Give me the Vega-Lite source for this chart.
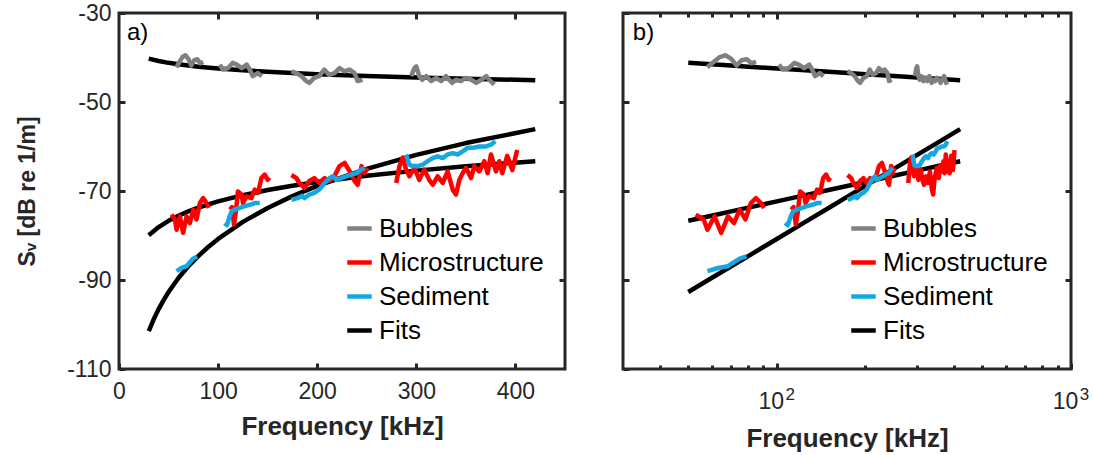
{
  "$schema": "https://vega.github.io/schema/vega-lite/v6.json",
  "background": "white",
  "padding": {"left": 15, "top": 0, "right": 5, "bottom": 5},
  "config": {
    "font": "Liberation Sans",
    "view": {"stroke": "#262626", "strokeWidth": 3},
    "axis": {
      "domain": false, "grid": false,
      "labelFont": "Liberation Sans", "labelFontSize": 23, "labelColor": "#262626",
      "tickColor": "#262626", "tickWidth": 3, "tickSize": -6,
      "titleFont": "Liberation Sans", "titleFontSize": 26, "titleFontWeight": "bold", "titleColor": "#262626",
      "labelFlush": false, "labelOverlap": false
    },
    "legend": {
      "orient": "none", "legendX": 226, "legendY": 201,
      "symbolType": "stroke", "symbolSize": 600, "symbolStrokeWidth": 4.5,
      "labelFont": "Liberation Sans", "labelFontSize": 26, "labelColor": "#000000",
      "labelOffset": 5, "rowPadding": 6, "labelLimit": 400, "title": null
    }
  },
  "datasets": {
    "fits": [
      {"fit": "bub", "series": "Fits", "f": 30, "sv": -40.26},
      {"fit": "bub", "series": "Fits", "f": 40, "sv": -40.79},
      {"fit": "bub", "series": "Fits", "f": 50, "sv": -41.2},
      {"fit": "bub", "series": "Fits", "f": 60, "sv": -41.53},
      {"fit": "bub", "series": "Fits", "f": 70, "sv": -41.82},
      {"fit": "bub", "series": "Fits", "f": 80, "sv": -42.06},
      {"fit": "bub", "series": "Fits", "f": 100, "sv": -42.47},
      {"fit": "bub", "series": "Fits", "f": 125, "sv": -42.88},
      {"fit": "bub", "series": "Fits", "f": 150, "sv": -43.21},
      {"fit": "bub", "series": "Fits", "f": 175, "sv": -43.5},
      {"fit": "bub", "series": "Fits", "f": 200, "sv": -43.74},
      {"fit": "bub", "series": "Fits", "f": 250, "sv": -44.15},
      {"fit": "bub", "series": "Fits", "f": 300, "sv": -44.48},
      {"fit": "bub", "series": "Fits", "f": 350, "sv": -44.77},
      {"fit": "bub", "series": "Fits", "f": 420, "sv": -45.1},
      {"fit": "mic", "series": "Fits", "f": 30, "sv": -79.92},
      {"fit": "mic", "series": "Fits", "f": 40, "sv": -78.11},
      {"fit": "mic", "series": "Fits", "f": 50, "sv": -76.7},
      {"fit": "mic", "series": "Fits", "f": 60, "sv": -75.55},
      {"fit": "mic", "series": "Fits", "f": 70, "sv": -74.58},
      {"fit": "mic", "series": "Fits", "f": 80, "sv": -73.74},
      {"fit": "mic", "series": "Fits", "f": 100, "sv": -72.34},
      {"fit": "mic", "series": "Fits", "f": 125, "sv": -70.93},
      {"fit": "mic", "series": "Fits", "f": 150, "sv": -69.78},
      {"fit": "mic", "series": "Fits", "f": 175, "sv": -68.81},
      {"fit": "mic", "series": "Fits", "f": 200, "sv": -67.97},
      {"fit": "mic", "series": "Fits", "f": 250, "sv": -66.56},
      {"fit": "mic", "series": "Fits", "f": 300, "sv": -65.42},
      {"fit": "mic", "series": "Fits", "f": 350, "sv": -64.45},
      {"fit": "mic", "series": "Fits", "f": 420, "sv": -63.3},
      {"fit": "sed", "series": "Fits", "f": 30, "sv": -101.48},
      {"fit": "sed", "series": "Fits", "f": 35, "sv": -98.83},
      {"fit": "sed", "series": "Fits", "f": 40, "sv": -96.54},
      {"fit": "sed", "series": "Fits", "f": 45, "sv": -94.51},
      {"fit": "sed", "series": "Fits", "f": 50, "sv": -92.7},
      {"fit": "sed", "series": "Fits", "f": 60, "sv": -89.56},
      {"fit": "sed", "series": "Fits", "f": 70, "sv": -86.91},
      {"fit": "sed", "series": "Fits", "f": 80, "sv": -84.62},
      {"fit": "sed", "series": "Fits", "f": 90, "sv": -82.59},
      {"fit": "sed", "series": "Fits", "f": 100, "sv": -80.78},
      {"fit": "sed", "series": "Fits", "f": 125, "sv": -76.94},
      {"fit": "sed", "series": "Fits", "f": 150, "sv": -73.81},
      {"fit": "sed", "series": "Fits", "f": 175, "sv": -71.15},
      {"fit": "sed", "series": "Fits", "f": 200, "sv": -68.86},
      {"fit": "sed", "series": "Fits", "f": 250, "sv": -65.02},
      {"fit": "sed", "series": "Fits", "f": 300, "sv": -61.88},
      {"fit": "sed", "series": "Fits", "f": 350, "sv": -59.23},
      {"fit": "sed", "series": "Fits", "f": 420, "sv": -56.1}
    ],
    "obs": [
      {"series": "Bubbles", "seg": "b1", "f": 58, "sv": -42.2},
      {"series": "Bubbles", "seg": "b1", "f": 61, "sv": -41.0},
      {"series": "Bubbles", "seg": "b1", "f": 64, "sv": -39.9},
      {"series": "Bubbles", "seg": "b1", "f": 67, "sv": -39.5},
      {"series": "Bubbles", "seg": "b1", "f": 70, "sv": -40.3},
      {"series": "Bubbles", "seg": "b1", "f": 73, "sv": -41.8},
      {"series": "Bubbles", "seg": "b1", "f": 76, "sv": -40.6},
      {"series": "Bubbles", "seg": "b1", "f": 79, "sv": -40.4},
      {"series": "Bubbles", "seg": "b1", "f": 82, "sv": -41.3},
      {"series": "Bubbles", "seg": "b1", "f": 85, "sv": -41.0},
      {"series": "Bubbles", "seg": "b2", "f": 101.7, "sv": -41.6},
      {"series": "Bubbles", "seg": "b2", "f": 104.7, "sv": -42.7},
      {"series": "Bubbles", "seg": "b2", "f": 109.8, "sv": -42.4},
      {"series": "Bubbles", "seg": "b2", "f": 114.8, "sv": -41.2},
      {"series": "Bubbles", "seg": "b2", "f": 118.8, "sv": -41.6},
      {"series": "Bubbles", "seg": "b2", "f": 123.9, "sv": -42.4},
      {"series": "Bubbles", "seg": "b2", "f": 128.9, "sv": -41.6},
      {"series": "Bubbles", "seg": "b2", "f": 131.9, "sv": -42.7},
      {"series": "Bubbles", "seg": "b2", "f": 134.9, "sv": -44.2},
      {"series": "Bubbles", "seg": "b2", "f": 140, "sv": -43.5},
      {"series": "Bubbles", "seg": "b2", "f": 144, "sv": -44.2},
      {"series": "Bubbles", "seg": "b3", "f": 174, "sv": -43.1},
      {"series": "Bubbles", "seg": "b3", "f": 179, "sv": -43.5},
      {"series": "Bubbles", "seg": "b3", "f": 184, "sv": -44.2},
      {"series": "Bubbles", "seg": "b3", "f": 189, "sv": -45.3},
      {"series": "Bubbles", "seg": "b3", "f": 192, "sv": -45.7},
      {"series": "Bubbles", "seg": "b3", "f": 197, "sv": -44.6},
      {"series": "Bubbles", "seg": "b3", "f": 202, "sv": -44.2},
      {"series": "Bubbles", "seg": "b3", "f": 207, "sv": -42.7},
      {"series": "Bubbles", "seg": "b3", "f": 212, "sv": -43.9},
      {"series": "Bubbles", "seg": "b3", "f": 217.5, "sv": -43.5},
      {"series": "Bubbles", "seg": "b3", "f": 222.5, "sv": -42.4},
      {"series": "Bubbles", "seg": "b3", "f": 227.6, "sv": -43.1},
      {"series": "Bubbles", "seg": "b3", "f": 232.6, "sv": -42.7},
      {"series": "Bubbles", "seg": "b3", "f": 237.7, "sv": -43.5},
      {"series": "Bubbles", "seg": "b3", "f": 240.7, "sv": -45.3},
      {"series": "Bubbles", "seg": "b3", "f": 245.7, "sv": -45.0},
      {"series": "Bubbles", "seg": "b4", "f": 294.8, "sv": -44.2},
      {"series": "Bubbles", "seg": "b4", "f": 298, "sv": -42.4},
      {"series": "Bubbles", "seg": "b4", "f": 300, "sv": -42.0},
      {"series": "Bubbles", "seg": "b4", "f": 303, "sv": -44.2},
      {"series": "Bubbles", "seg": "b4", "f": 306, "sv": -45.0},
      {"series": "Bubbles", "seg": "b4", "f": 310, "sv": -44.2},
      {"series": "Bubbles", "seg": "b4", "f": 315, "sv": -45.3},
      {"series": "Bubbles", "seg": "b4", "f": 320, "sv": -44.6},
      {"series": "Bubbles", "seg": "b4", "f": 325, "sv": -45.3},
      {"series": "Bubbles", "seg": "b4", "f": 330, "sv": -44.2},
      {"series": "Bubbles", "seg": "b4", "f": 336, "sv": -45.7},
      {"series": "Bubbles", "seg": "b4", "f": 340, "sv": -45.0},
      {"series": "Bubbles", "seg": "b4", "f": 345, "sv": -45.3},
      {"series": "Bubbles", "seg": "b4", "f": 350, "sv": -44.6},
      {"series": "Bubbles", "seg": "b4", "f": 355.5, "sv": -45.0},
      {"series": "Bubbles", "seg": "b4", "f": 360.5, "sv": -45.7},
      {"series": "Bubbles", "seg": "b4", "f": 365.5, "sv": -45.0},
      {"series": "Bubbles", "seg": "b4", "f": 370.6, "sv": -44.2},
      {"series": "Bubbles", "seg": "b4", "f": 373.6, "sv": -45.0},
      {"series": "Bubbles", "seg": "b4", "f": 378.6, "sv": -46.1},
      {"series": "Microstructure", "seg": "m1", "f": 53, "sv": -75.3},
      {"series": "Microstructure", "seg": "m1", "f": 56.4, "sv": -76.4},
      {"series": "Microstructure", "seg": "m1", "f": 58.1, "sv": -78.7},
      {"series": "Microstructure", "seg": "m1", "f": 61.4, "sv": -75.7},
      {"series": "Microstructure", "seg": "m1", "f": 64.7, "sv": -79.4},
      {"series": "Microstructure", "seg": "m1", "f": 68.2, "sv": -75.7},
      {"series": "Microstructure", "seg": "m1", "f": 71.5, "sv": -77.2},
      {"series": "Microstructure", "seg": "m1", "f": 74.8, "sv": -74.2},
      {"series": "Microstructure", "seg": "m1", "f": 78.2, "sv": -76.4},
      {"series": "Microstructure", "seg": "m1", "f": 81.6, "sv": -72.7},
      {"series": "Microstructure", "seg": "m1", "f": 84.9, "sv": -71.6},
      {"series": "Microstructure", "seg": "m1", "f": 88.3, "sv": -72.7},
      {"series": "Microstructure", "seg": "m1", "f": 90.6, "sv": -73.8},
      {"series": "Microstructure", "seg": "m2", "f": 112, "sv": -74.2},
      {"series": "Microstructure", "seg": "m2", "f": 114, "sv": -73.6},
      {"series": "Microstructure", "seg": "m2", "f": 116, "sv": -77.5},
      {"series": "Microstructure", "seg": "m2", "f": 118, "sv": -74.5},
      {"series": "Microstructure", "seg": "m2", "f": 120, "sv": -70.1},
      {"series": "Microstructure", "seg": "m2", "f": 123.6, "sv": -70.8},
      {"series": "Microstructure", "seg": "m2", "f": 125.2, "sv": -72.7},
      {"series": "Microstructure", "seg": "m2", "f": 128.6, "sv": -71.2},
      {"series": "Microstructure", "seg": "m2", "f": 133.6, "sv": -71.6},
      {"series": "Microstructure", "seg": "m2", "f": 136.9, "sv": -69.7},
      {"series": "Microstructure", "seg": "m2", "f": 140.3, "sv": -70.4},
      {"series": "Microstructure", "seg": "m2", "f": 143.7, "sv": -67.1},
      {"series": "Microstructure", "seg": "m2", "f": 147, "sv": -66.3},
      {"series": "Microstructure", "seg": "m2", "f": 150, "sv": -67.5},
      {"series": "Microstructure", "seg": "m2", "f": 152, "sv": -67.0},
      {"series": "Microstructure", "seg": "m3", "f": 174, "sv": -66.4},
      {"series": "Microstructure", "seg": "m3", "f": 179, "sv": -67.1},
      {"series": "Microstructure", "seg": "m3", "f": 182, "sv": -68.2},
      {"series": "Microstructure", "seg": "m3", "f": 187, "sv": -69.3},
      {"series": "Microstructure", "seg": "m3", "f": 192, "sv": -67.75},
      {"series": "Microstructure", "seg": "m3", "f": 197, "sv": -67.1},
      {"series": "Microstructure", "seg": "m3", "f": 202, "sv": -68.2},
      {"series": "Microstructure", "seg": "m3", "f": 207.5, "sv": -67.1},
      {"series": "Microstructure", "seg": "m3", "f": 212.5, "sv": -67.75},
      {"series": "Microstructure", "seg": "m3", "f": 217.5, "sv": -66.6},
      {"series": "Microstructure", "seg": "m3", "f": 222.5, "sv": -64.4},
      {"series": "Microstructure", "seg": "m3", "f": 227.6, "sv": -63.7},
      {"series": "Microstructure", "seg": "m3", "f": 232.6, "sv": -65.5},
      {"series": "Microstructure", "seg": "m3", "f": 237.7, "sv": -67.75},
      {"series": "Microstructure", "seg": "m3", "f": 240.7, "sv": -68.65},
      {"series": "Microstructure", "seg": "m3", "f": 244.7, "sv": -64.4},
      {"series": "Microstructure", "seg": "m3", "f": 247.7, "sv": -66.0},
      {"series": "Microstructure", "seg": "m3", "f": 250.8, "sv": -64.8},
      {"series": "Microstructure", "seg": "m4", "f": 279.7, "sv": -68.2},
      {"series": "Microstructure", "seg": "m4", "f": 283, "sv": -64.4},
      {"series": "Microstructure", "seg": "m4", "f": 286.3, "sv": -62.5},
      {"series": "Microstructure", "seg": "m4", "f": 289.7, "sv": -65.2},
      {"series": "Microstructure", "seg": "m4", "f": 293, "sv": -66.7},
      {"series": "Microstructure", "seg": "m4", "f": 298, "sv": -64.8},
      {"series": "Microstructure", "seg": "m4", "f": 303, "sv": -67.5},
      {"series": "Microstructure", "seg": "m4", "f": 308, "sv": -65.2},
      {"series": "Microstructure", "seg": "m4", "f": 313, "sv": -67.5},
      {"series": "Microstructure", "seg": "m4", "f": 316.5, "sv": -68.6},
      {"series": "Microstructure", "seg": "m4", "f": 321.5, "sv": -66.7},
      {"series": "Microstructure", "seg": "m4", "f": 326.6, "sv": -68.2},
      {"series": "Microstructure", "seg": "m4", "f": 331.6, "sv": -65.6},
      {"series": "Microstructure", "seg": "m4", "f": 336.7, "sv": -69.7},
      {"series": "Microstructure", "seg": "m4", "f": 340, "sv": -70.8},
      {"series": "Microstructure", "seg": "m4", "f": 343.4, "sv": -67.5},
      {"series": "Microstructure", "seg": "m4", "f": 346.7, "sv": -66.0},
      {"series": "Microstructure", "seg": "m4", "f": 350.1, "sv": -64.8},
      {"series": "Microstructure", "seg": "m4", "f": 355.2, "sv": -67.1},
      {"series": "Microstructure", "seg": "m4", "f": 358.5, "sv": -64.4},
      {"series": "Microstructure", "seg": "m4", "f": 363.5, "sv": -65.6},
      {"series": "Microstructure", "seg": "m4", "f": 368.6, "sv": -63.3},
      {"series": "Microstructure", "seg": "m4", "f": 371.9, "sv": -66.0},
      {"series": "Microstructure", "seg": "m4", "f": 375.3, "sv": -61.8},
      {"series": "Microstructure", "seg": "m4", "f": 380.4, "sv": -65.6},
      {"series": "Microstructure", "seg": "m4", "f": 383.7, "sv": -63.3},
      {"series": "Microstructure", "seg": "m4", "f": 386.7, "sv": -66.0},
      {"series": "Microstructure", "seg": "m4", "f": 391.7, "sv": -62.1},
      {"series": "Microstructure", "seg": "m4", "f": 396.8, "sv": -65.3},
      {"series": "Microstructure", "seg": "m4", "f": 401.8, "sv": -60.8},
      {"series": "Sediment", "seg": "s1", "f": 58.1, "sv": -88.0},
      {"series": "Sediment", "seg": "s1", "f": 63.1, "sv": -87.3},
      {"series": "Sediment", "seg": "s1", "f": 68.2, "sv": -86.9},
      {"series": "Sediment", "seg": "s1", "f": 71.5, "sv": -86.0},
      {"series": "Sediment", "seg": "s1", "f": 74.8, "sv": -85.2},
      {"series": "Sediment", "seg": "s1", "f": 78.9, "sv": -84.7},
      {"series": "Sediment", "seg": "s2", "f": 106.7, "sv": -77.2},
      {"series": "Sediment", "seg": "s2", "f": 109, "sv": -77.7},
      {"series": "Sediment", "seg": "s2", "f": 111, "sv": -76.1},
      {"series": "Sediment", "seg": "s2", "f": 113.5, "sv": -74.6},
      {"series": "Sediment", "seg": "s2", "f": 116.8, "sv": -74.2},
      {"series": "Sediment", "seg": "s2", "f": 121.9, "sv": -73.8},
      {"series": "Sediment", "seg": "s2", "f": 126.9, "sv": -73.4},
      {"series": "Sediment", "seg": "s2", "f": 131.9, "sv": -73.1},
      {"series": "Sediment", "seg": "s2", "f": 137, "sv": -72.7},
      {"series": "Sediment", "seg": "s2", "f": 142, "sv": -72.7},
      {"series": "Sediment", "seg": "s3", "f": 174, "sv": -72.0},
      {"series": "Sediment", "seg": "s3", "f": 180, "sv": -71.6},
      {"series": "Sediment", "seg": "s3", "f": 185, "sv": -71.1},
      {"series": "Sediment", "seg": "s3", "f": 187, "sv": -71.6},
      {"series": "Sediment", "seg": "s3", "f": 192, "sv": -70.8},
      {"series": "Sediment", "seg": "s3", "f": 197, "sv": -70.4},
      {"series": "Sediment", "seg": "s3", "f": 202, "sv": -69.7},
      {"series": "Sediment", "seg": "s3", "f": 207.5, "sv": -68.2},
      {"series": "Sediment", "seg": "s3", "f": 212.5, "sv": -67.1},
      {"series": "Sediment", "seg": "s3", "f": 215.8, "sv": -66.7},
      {"series": "Sediment", "seg": "s3", "f": 219.2, "sv": -67.5},
      {"series": "Sediment", "seg": "s3", "f": 224.3, "sv": -67.1},
      {"series": "Sediment", "seg": "s3", "f": 229.3, "sv": -66.7},
      {"series": "Sediment", "seg": "s3", "f": 234.3, "sv": -66.3},
      {"series": "Sediment", "seg": "s3", "f": 239.4, "sv": -66.0},
      {"series": "Sediment", "seg": "s3", "f": 244.4, "sv": -65.2},
      {"series": "Sediment", "seg": "s3", "f": 247.7, "sv": -64.8},
      {"series": "Sediment", "seg": "s4", "f": 289.7, "sv": -61.8},
      {"series": "Sediment", "seg": "s4", "f": 293, "sv": -64.1},
      {"series": "Sediment", "seg": "s4", "f": 296.3, "sv": -64.4},
      {"series": "Sediment", "seg": "s4", "f": 301.4, "sv": -64.4},
      {"series": "Sediment", "seg": "s4", "f": 306.4, "sv": -64.1},
      {"series": "Sediment", "seg": "s4", "f": 311.5, "sv": -63.3},
      {"series": "Sediment", "seg": "s4", "f": 316.5, "sv": -62.6},
      {"series": "Sediment", "seg": "s4", "f": 321.5, "sv": -62.2},
      {"series": "Sediment", "seg": "s4", "f": 326.6, "sv": -62.6},
      {"series": "Sediment", "seg": "s4", "f": 331.6, "sv": -61.8},
      {"series": "Sediment", "seg": "s4", "f": 336.7, "sv": -61.5},
      {"series": "Sediment", "seg": "s4", "f": 341.7, "sv": -61.8},
      {"series": "Sediment", "seg": "s4", "f": 346.7, "sv": -61.1},
      {"series": "Sediment", "seg": "s4", "f": 351.8, "sv": -60.3},
      {"series": "Sediment", "seg": "s4", "f": 356.8, "sv": -60.3},
      {"series": "Sediment", "seg": "s4", "f": 363.5, "sv": -60.0},
      {"series": "Sediment", "seg": "s4", "f": 370.3, "sv": -60.0},
      {"series": "Sediment", "seg": "s4", "f": 375.3, "sv": -59.6},
      {"series": "Sediment", "seg": "s4", "f": 379.7, "sv": -58.8}
    ]
  },
  "spacing": 52,
  "resolve": {"scale": {"color": "independent"}, "legend": {"color": "independent"}},
  "hconcat": [
    {
      "width": 446, "height": 356,
      "resolve": {"axis": {"x": "independent", "y": "independent"}},
      "layer": [
        {
          "data": {"name": "fits"},
          "mark": {"type": "line", "strokeWidth": 4.5, "strokeJoin": "round"},
          "encoding": {
            "x": {"field": "f", "type": "quantitative", "scale": {"domain": [0, 450], "nice": false},
                  "axis": {"values": [0, 100, 200, 300, 400], "title": "Frequency [kHz]", "labelPadding": 17, "titlePadding": 10}},
            "y": {"field": "sv", "type": "quantitative", "scale": {"domain": [-110, -30], "nice": false},
                  "axis": {"values": [-110, -90, -70, -50, -30], "labelExpr": "replace(datum.label, '−', '-')", "title": "Sᵥ [dB re 1/m]", "labelPadding": 14, "titlePadding": 27, "titleFontSize": 23}},
            "color": {"field": "series", "type": "nominal",
                      "scale": {"domain": ["Bubbles", "Microstructure", "Sediment", "Fits"], "range": ["#808080", "#FF0000", "#14A8E2", "#000000"]}},
            "detail": {"field": "fit"}
          }
        },
        {
          "data": {"name": "obs"},
          "mark": {"type": "line", "strokeWidth": 4.5, "strokeJoin": "round"},
          "encoding": {
            "x": {"field": "f", "type": "quantitative", "scale": {"domain": [0, 450], "nice": false},
                  "axis": {"orient": "top", "values": [100, 200, 300, 400], "labels": false, "title": null}},
            "y": {"field": "sv", "type": "quantitative", "scale": {"domain": [-110, -30], "nice": false},
                  "axis": {"orient": "right", "values": [-90, -70, -50], "labels": false, "title": null}},
            "color": {"field": "series", "type": "nominal",
                      "scale": {"domain": ["Bubbles", "Microstructure", "Sediment", "Fits"], "range": ["#808080", "#FF0000", "#14A8E2", "#000000"]}},
            "detail": {"field": "seg"}
          }
        },
        {
          "data": {"values": [{"lab": "a)", "f": 8, "sv": -34.5}]},
          "mark": {"type": "text", "align": "left", "baseline": "middle", "fontSize": 24, "font": "Liberation Sans", "color": "#000000"},
          "encoding": {
            "x": {"field": "f", "type": "quantitative", "axis": null},
            "y": {"field": "sv", "type": "quantitative", "axis": null},
            "text": {"field": "lab"}
          }
        }
      ]
    },
    {
      "width": 448, "height": 356,
      "resolve": {"axis": {"x": "independent", "y": "independent"}},
      "layer": [
        {
          "data": {"name": "fits"},
          "transform": [{"filter": "datum.f >= 50"}],
          "mark": {"type": "line", "strokeWidth": 4.5, "strokeJoin": "round"},
          "encoding": {
            "x": {"field": "f", "type": "quantitative", "scale": {"type": "log", "domain": [30, 1000], "nice": false},
                  "axis": {"values": [40, 50, 60, 70, 80, 90, 100, 200, 300, 400, 500, 600, 700, 800, 900, 1000],
                           "labelExpr": "datum.value == 100 || datum.value == 1000 ? '10' : ''",
                           "labelOffset": -6,
                           "tickSize": {"condition": {"test": "datum.value == 100 || datum.value == 1000", "value": -6}, "value": -4},
                           "title": "Frequency [kHz]", "labelPadding": 27, "titlePadding": 10}},
            "y": {"field": "sv", "type": "quantitative", "scale": {"domain": [-110, -30], "nice": false},
                  "axis": {"values": [-110, -90, -70, -50, -30], "labels": false, "title": null}},
            "color": {"field": "series", "type": "nominal",
                      "scale": {"domain": ["Bubbles", "Microstructure", "Sediment", "Fits"], "range": ["#808080", "#FF0000", "#14A8E2", "#000000"]}},
            "detail": {"field": "fit"}
          }
        },
        {
          "data": {"name": "obs"},
          "mark": {"type": "line", "strokeWidth": 4.5, "strokeJoin": "round"},
          "encoding": {
            "x": {"field": "f", "type": "quantitative", "scale": {"type": "log", "domain": [30, 1000], "nice": false},
                  "axis": {"orient": "top", "values": [40, 50, 60, 70, 80, 90, 100, 200, 300, 400, 500, 600, 700, 800, 900],
                           "tickSize": {"condition": {"test": "datum.value == 100", "value": -6}, "value": -4},
                           "labels": false, "title": null}},
            "y": {"field": "sv", "type": "quantitative", "scale": {"domain": [-110, -30], "nice": false},
                  "axis": {"orient": "right", "values": [-90, -70, -50], "labels": false, "title": null}},
            "color": {"field": "series", "type": "nominal",
                      "scale": {"domain": ["Bubbles", "Microstructure", "Sediment", "Fits"], "range": ["#808080", "#FF0000", "#14A8E2", "#000000"]}},
            "detail": {"field": "seg"}
          }
        },
        {
          "data": {"values": [{"lab": "b)", "f": 32.4, "sv": -34.5}]},
          "mark": {"type": "text", "align": "left", "baseline": "middle", "fontSize": 24, "font": "Liberation Sans", "color": "#000000"},
          "encoding": {
            "x": {"field": "f", "type": "quantitative", "scale": {"type": "log", "domain": [30, 1000], "nice": false},
                  "axis": {"orient": "bottom", "values": [100, 1000], "ticks": false, "title": null,
                           "labelExpr": "datum.value == 100 ? '2' : '3'", "labelFontSize": 17, "labelOffset": 13, "labelPadding": 17}},
            "y": {"field": "sv", "type": "quantitative", "axis": null},
            "text": {"field": "lab"}
          }
        }
      ]
    }
  ]
}
